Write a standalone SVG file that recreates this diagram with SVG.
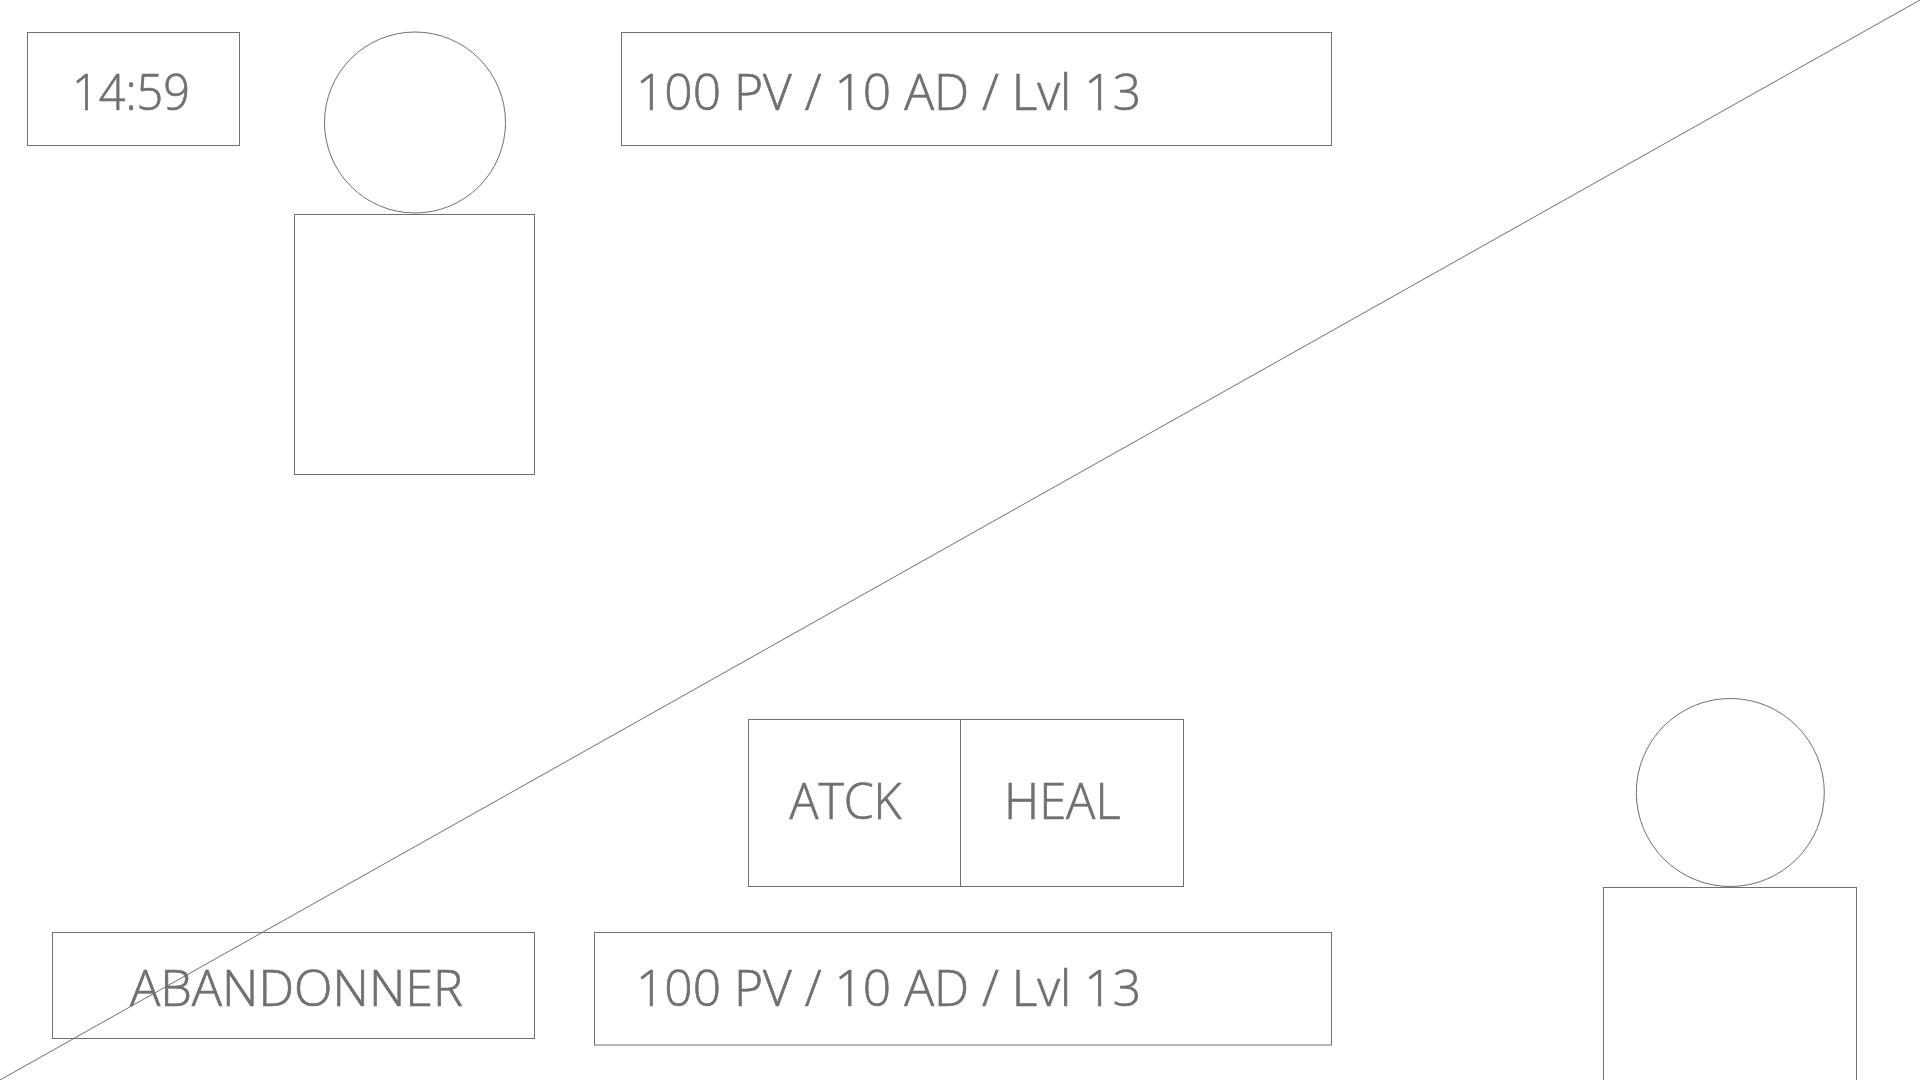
<svg xmlns="http://www.w3.org/2000/svg" width="1920" height="1080" viewBox="0 0 1920 1080">
<style>
.s{fill:none;stroke:#707070;stroke-width:1}
.t{font-family:"Open Sans","Noto Sans","Liberation Sans",sans-serif;font-weight:300;font-size:50px;fill:#707070;stroke:#707070;stroke-width:.7}
</style>
<rect width="1920" height="1080" fill="#fff"/>
<g id="connectors"><line class="s" x1="0" y1="1080" x2="1920" y2="0"/></g>
<g id="timer"><rect class="s" x="27.5" y="32.5" width="212" height="113"/><text class="t" x="72" y="110" textLength="118" lengthAdjust="spacingAndGlyphs">14:59</text></g>
<g id="enemy"><circle class="s" cx="415" cy="122.5" r="90.5"/><rect class="s" x="294.5" y="214.5" width="240" height="260"/></g>
<g id="enemy-stats"><rect class="s" x="621.5" y="32.5" width="710" height="113"/><text class="t" x="636" y="109.5" textLength="505" lengthAdjust="spacingAndGlyphs">100 PV / 10 AD / Lvl 13</text></g>
<g id="attack"><rect class="s" x="748.5" y="719.5" width="212" height="167"/><text class="t" x="789.5" y="818.5" textLength="112" lengthAdjust="spacingAndGlyphs">ATCK</text></g>
<g id="heal"><rect class="s" x="960.5" y="719.5" width="223" height="167"/><text class="t" x="1004" y="818.5" textLength="116.5" lengthAdjust="spacingAndGlyphs">HEAL</text></g>
<g id="quit"><rect class="s" x="52.5" y="932.5" width="482" height="106"/><text class="t" x="130" y="1006" textLength="333" lengthAdjust="spacingAndGlyphs">ABANDONNER</text></g>
<g id="player-stats"><rect class="s" x="594.5" y="932.5" width="737" height="112.5"/><text class="t" x="636" y="1005.5" textLength="505" lengthAdjust="spacingAndGlyphs">100 PV / 10 AD / Lvl 13</text></g>
<g id="player"><circle class="s" cx="1730.3" cy="792.5" r="94"/><rect class="s" x="1603.5" y="887.5" width="253" height="200"/></g>
</svg>
